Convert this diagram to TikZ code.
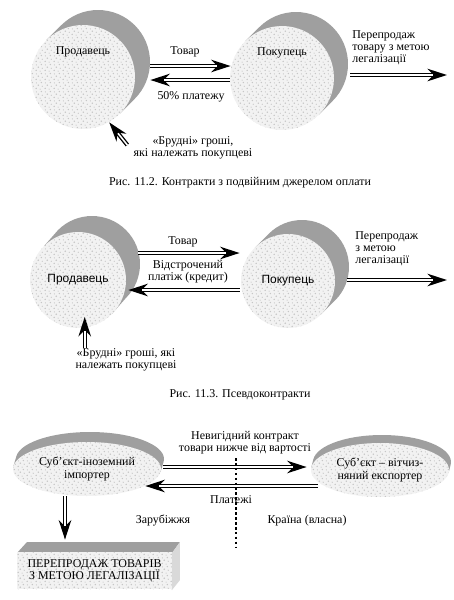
\documentclass[tikz,border=0pt]{standalone}
\usepackage{fontspec}
\setmainfont{Liberation Serif}
\setsansfont{Liberation Sans}
\usetikzlibrary{positioning,arrows.meta,calc,shapes.geometric,patterns}

% irregular grey speckle for the faces
\pgfdeclarepatternformonly{speckle}{\pgfpointorigin}{\pgfqpoint{5pt}{5pt}}{\pgfqpoint{5pt}{5pt}}{%
  \pgfpathcircle{\pgfqpoint{0.7pt}{0.9pt}}{0.45pt}
  \pgfpathcircle{\pgfqpoint{3.0pt}{0.5pt}}{0.35pt}
  \pgfpathcircle{\pgfqpoint{1.9pt}{2.8pt}}{0.5pt}
  \pgfpathcircle{\pgfqpoint{4.2pt}{2.2pt}}{0.4pt}
  \pgfpathcircle{\pgfqpoint{3.7pt}{4.3pt}}{0.45pt}
  \pgfpathcircle{\pgfqpoint{0.8pt}{4.1pt}}{0.35pt}
  \pgfusepath{fill}}

% grey side of a drum: centre, x radius, y radius, shift, tangent angle
\newcommand\drumside[5]{%
  \fill[side] ($(#1)+(#5+180:#2 and #3)$) -- ++(#4)
    arc[start angle=#5+180, end angle=#5, x radius=#2, y radius=#3]
    -- ($(#1)+(#5:#2 and #3)$) -- cycle;}

\tikzset{
  side/.style={fill=gray!75},
  face/.style={fill=gray!10, inner sep=0pt, postaction={pattern=speckle, pattern color=gray!45}},
  txt/.style={font=\fontsize{6.8}{7}\selectfont, inner sep=0pt, align=center},
  flow/.style={line width=2.4pt, -{Stealth[length=11pt,width=7pt,inset=3.5pt]},
    postaction={draw=white, line width=0.9pt, shorten >=8pt, -}},
  frontier/.style={line width=1.5pt, dash pattern=on 1.5pt off 1.3pt},
}

\begin{document}
\begin{tikzpicture}[x=0.02cm, y=0.02cm]
\useasboundingbox (0,0) rectangle (454,-600);

% Fig. 11.2: seller and buyer
\drumside{83,-77}{52}{52}{15,15}{-45}
\node[face, circle, minimum size=2.08cm] (seller1) at (83,-77) {};
\drumside{282,-78}{52}{52}{14,14}{-45}
\node[face, circle, minimum size=2.08cm] (buyer1) at (282,-78) {};
\node[txt] at (83,-52) {Продавець};
\node[txt] at (282,-53) {Покупець};

% goods and payment
\draw[flow] ([shift={(15,11)}]seller1.east) -- ([shift={(1,12)}]buyer1.west);
\draw[flow] ([shift={(0,-2)}]buyer1.west) -- ([shift={(15,-3)}]seller1.east);
\node[txt] (goods1) at (185,-52) {Товар};
\node[txt] (pay1) at (191,-97) {50\% платежу};

% resale
\coordinate (out1) at (447,-75);
\draw[flow] ([shift={(16,3)}]buyer1.east) -- (out1);
\node[txt, align=left, anchor=north west] (resale1) at (352,-30) {Перепродаж\\товару з метою\\легалізації};

% dirty money
\node[txt] (dirty1) at (193,-148) {«Брудні» гроші,\\які належать покупцеві};
\draw[flow] ([shift={(-6,3)}]dirty1.west) -- (seller1.-60);
\node[txt] (cap1) at (240,-183) {Рис. 11.2. Контракти з подвійним джерелом оплати};

% Fig. 11.3: seller and buyer
\drumside{78,-280}{48}{48}{14,16}{-45}
\node[face, circle, minimum size=1.92cm, txt, font=\sffamily\fontsize{6.8}{7}\selectfont] (seller2) at (78,-280) {Продавець};
\drumside{288,-281}{47}{47}{14,14}{-45}
\node[face, circle, minimum size=1.88cm, txt, font=\sffamily\fontsize{6.8}{7}\selectfont] (buyer2) at (288,-281) {Покупець};

% goods and deferred payment
\draw[flow] ([shift={(12,27)}]seller2.east) -- ([shift={(-1,28)}]buyer2.west);
\draw[flow] ([shift={(-1,-9)}]buyer2.west) -- ([shift={(2,-10)}]seller2.east);
\node[txt] (goods2) at (183,-242) {Товар};
\node[txt] (credit2) at (188,-272) {Відстрочений\\платіж (кредит)};

% resale
\coordinate (out2) at (447,-280);
\draw[flow] ([shift={(12,1)}]buyer2.east) -- (out2);
\node[txt, align=left, anchor=north west] (resale2) at (355,-231) {Перепродаж\\з метою\\легалізації};

% dirty money
\node[txt] (dirty2) at (126,-360) {«Брудні» гроші, які\\належать покупцеві};
\draw[flow] (dirty2.north -| seller2.-82) -- ([shift={(0,11)}]seller2.-82);
\node[txt] (cap2) at (240,-395) {Рис. 11.3. Псевдоконтракти};

% Fig. 11.4: importer and exporter
\drumside{87,-469}{74}{27}{3,10}{-6}
\node[face, ellipse, minimum width=2.96cm, minimum height=1.08cm, txt] (importer) at (87,-469) {Суб’єкт-іноземний\\імпортер};
\drumside{380,-470}{69}{27}{2,8}{-5}
\node[face, ellipse, minimum width=2.76cm, minimum height=1.08cm, txt] (exporter) at (380,-470) {Суб’єкт – вітчиз-\\няний експортер};

% contract and payments
\draw[flow] ([shift={(2,2)}]importer.east) -- ([shift={(-4,3)}]exporter.west);
\draw[flow] ([shift={(7,-16)}]exporter.west) -- ([shift={(-16,-17)}]importer.east);
\node[txt] (contract) at (245,-443) {Невигідний контракт\\товари нижче від вартості};
\node[txt] (pay3) at (231,-500) {Платежі};

% border
\coordinate (b1) at (236,-458);
\coordinate (b2) at (236,-548);
\draw[frontier] (b1) -- (b2);
\node[txt] (abroad) at (163,-521) {Зарубіжжя};
\node[txt] (home) at (307,-521) {Країна (власна)};

% resale box
\fill[gray!75] (17,-553) -- (27,-542) -- (180,-542) -- (172,-553) -- cycle;
\fill[gray!30] (172,-553) -- (180,-542) -- (180,-580) -- (172,-590) -- cycle;
\node[face, minimum width=3.1cm, minimum height=0.74cm, txt] (resale3) at (94.5,-570.5) {ПЕРЕПРОДАЖ ТОВАРІВ\\З МЕТОЮ ЛЕГАЛІЗАЦІЇ};
\draw[flow] ([shift={(-22,0)}]importer.south) -- ([shift={(-29.5,12)}]resale3.north);
\end{tikzpicture}
\end{document}
